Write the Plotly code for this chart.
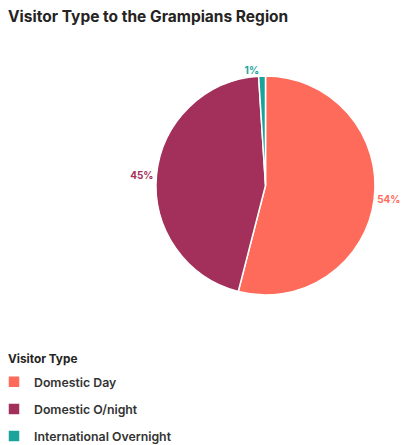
import plotly.graph_objects as go

labels = ["Domestic Day", "Domestic O/night", "International Overnight"]
values = [54, 45, 1]
colors = ["#FF6B5B", "#A3305A", "#1AA39B"]

W, H = 403, 445
cx, cy, r = 265.5, 185.5, 109.5

legend_labels = ['<span style="font-size:12.3px;baseline-shift:2.5px">%s</span>' % s for s in labels]

fig = go.Figure(go.Pie(
    labels=legend_labels,
    values=values,
    sort=False,
    direction="clockwise",
    rotation=0,
    marker=dict(colors=colors, line=dict(color="white", width=1.5)),
    textinfo="percent",
    texttemplate="%{percent:.0%}",
    textposition="outside",
    outsidetextfont=dict(color=colors, size=10, family="Inter", weight=700),
    domain=dict(x=[(cx - r) / W, (cx + r) / W],
                y=[(H - cy - r) / H, (H - cy + r) / H]),
    hoverinfo="label+percent",
))

fig.update_layout(
    width=W, height=H,
    margin=dict(l=0, r=0, t=0, b=0, autoexpand=False),
    paper_bgcolor="white",
    plot_bgcolor="white",
    title=dict(text="<b>Visitor Type to the Grampians Region</b>",
               x=8 / W, xanchor="left", xref="container",
               y=1 - 17 / H, yanchor="middle", yref="container",
               font=dict(family="Inter", size=15.5, color="#252423", weight=800)),
    showlegend=True,
    legend=dict(
        title=dict(text="&nbsp;&nbsp;&nbsp;&nbsp;<b>Visitor Type</b>",
                   font=dict(family="Inter", size=11.8, color="#252423")),
        orientation="v",
        x=-6 / W, xanchor="left", y=(H - 348) / H, yanchor="top",
        font=dict(family="Inter", size=18.5, color="#333333", weight=600),
        bgcolor="rgba(0,0,0,0)",
        itemwidth=30,
        tracegroupgap=0,
    ),
)

fig.write_html("out.html")
